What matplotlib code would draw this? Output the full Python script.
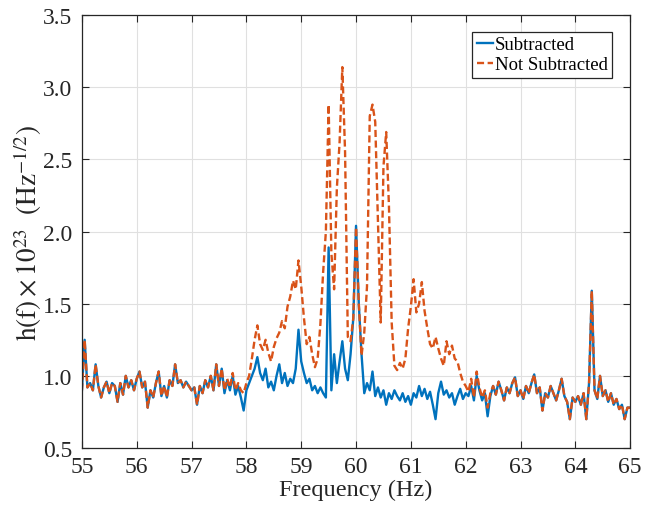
import numpy as np
import matplotlib
matplotlib.use("Agg")
import matplotlib.pyplot as plt

# frequency grid (Hz), 0.05 Hz step
freq = np.round(np.arange(55.0, 65.0001, 0.05), 2)

# 55.00 - 57.95 (both series nearly identical)
low_sub = [0.90, 1.25, 0.92, 0.95, 0.90, 1.08, 0.93, 0.85, 0.92, 0.96,
           0.88, 0.95, 0.93, 0.82, 0.95, 0.87, 1.00, 0.92, 0.97, 0.90,
           0.98, 1.03, 0.92, 0.96, 0.78, 0.90, 0.85, 0.95, 1.03, 0.86,
           0.93, 0.85, 0.97, 0.93, 1.08, 0.95, 0.97, 0.92, 0.96, 0.93,
           0.90, 0.92, 0.80, 0.93, 0.88, 0.97, 0.92, 1.00, 0.90, 1.08,
           0.93, 1.05, 0.88, 0.97, 0.90, 1.00, 0.87, 0.93, 0.85, 0.76]
low_not = [0.90, 1.25, 0.92, 0.95, 0.90, 1.08, 0.93, 0.85, 0.92, 0.96,
           0.88, 0.95, 0.93, 0.82, 0.95, 0.87, 1.00, 0.92, 0.97, 0.90,
           0.98, 1.03, 0.92, 0.96, 0.78, 0.90, 0.85, 0.95, 1.03, 0.86,
           0.93, 0.85, 0.97, 0.93, 1.08, 0.95, 0.97, 0.92, 0.96, 0.93,
           0.90, 0.92, 0.80, 0.93, 0.88, 0.97, 0.92, 1.00, 0.90, 1.08,
           0.93, 1.05, 0.90, 0.98, 0.92, 1.02, 0.90, 0.95, 0.90, 0.88]

# 58.00 - 61.95
mid_sub = [0.90, 0.95, 1.00, 1.05, 1.13, 1.02, 0.97, 1.05, 0.92, 0.96,
           0.90, 1.00, 1.08, 0.95, 1.02, 0.93, 0.98, 0.95, 1.05, 1.32,
           1.10, 1.02, 0.95, 0.98, 0.90, 0.93, 0.88, 0.92, 0.88, 0.85,
           1.89, 0.90, 1.15, 0.95, 1.10, 1.24, 1.05, 0.97, 1.15, 1.40,
           2.04, 1.50, 1.15, 0.88, 0.95, 0.90, 1.03, 0.86, 0.92, 0.85,
           0.90, 0.80, 0.88, 0.84, 0.90, 0.86, 0.83, 0.88, 0.82, 0.86,
           0.80, 0.88, 0.85, 0.93, 0.86, 0.91, 0.84, 0.89, 0.80, 0.70,
           0.88, 0.96, 0.87, 0.90, 0.85, 0.88, 0.80, 0.86, 0.91, 0.84]
mid_not = [0.95, 1.00, 1.12, 1.25, 1.35, 1.22, 1.18, 1.25, 1.16, 1.10,
           1.20, 1.26, 1.30, 1.38, 1.33, 1.48, 1.55, 1.66, 1.60, 1.80,
           1.62, 1.40, 1.22, 1.27, 1.15, 1.06, 1.12, 1.36, 1.72, 2.00,
           2.88, 1.85, 1.60, 2.30, 2.62, 3.14, 2.55, 1.27, 1.24, 1.40,
           2.03, 1.50, 1.14, 1.30, 1.62, 2.80, 2.88, 2.76, 2.07, 1.37,
           2.45, 2.69, 2.18, 1.37, 1.07, 1.04, 1.09, 1.05, 1.12, 1.33,
           1.48, 1.67, 1.44, 1.50, 1.65, 1.45, 1.33, 1.22, 1.19, 1.27,
           1.19, 1.12, 1.07, 1.24, 1.15, 1.21, 1.12, 1.10, 1.02, 0.96]

# 62.00 - 65.00
high_sub = [0.88, 0.86, 0.93, 0.83, 1.00, 0.90, 0.83, 0.88, 0.72, 0.86,
            0.93, 0.87, 0.96, 0.90, 0.83, 0.92, 0.88, 0.95, 0.99, 0.86,
            0.90, 0.84, 0.93, 0.88, 0.95, 1.01, 0.88, 0.92, 0.76, 0.88,
            0.85, 0.93, 0.88, 0.83, 0.90, 0.98, 0.86, 0.82, 0.70, 0.85,
            0.82, 0.86, 0.80, 0.88, 0.70, 0.95, 1.59, 0.90, 0.84, 1.00,
            0.86, 0.90, 0.82, 0.88, 0.80, 0.84, 0.77, 0.80, 0.70, 0.78,
            0.78]
high_not = [0.93, 0.89, 0.98, 0.85, 1.03, 0.92, 0.85, 0.90, 0.78, 0.88,
            0.93, 0.87, 0.96, 0.90, 0.83, 0.92, 0.88, 0.95, 0.99, 0.86,
            0.90, 0.84, 0.93, 0.88, 0.95, 1.01, 0.88, 0.92, 0.76, 0.88,
            0.85, 0.93, 0.88, 0.83, 0.90, 0.98, 0.86, 0.82, 0.70, 0.85,
            0.82, 0.86, 0.80, 0.88, 0.70, 0.95, 1.59, 0.90, 0.84, 1.00,
            0.86, 0.90, 0.82, 0.88, 0.80, 0.84, 0.77, 0.80, 0.70, 0.78,
            0.78]

subtracted = np.array(low_sub + mid_sub + high_sub)
not_subtracted = np.array(low_not + mid_not + high_not)

xticks = list(range(55, 66))
yticks = [0.5, 1.0, 1.5, 2.0, 2.5, 3.0, 3.5]

plt.rcParams['font.family'] = ['Liberation Serif', 'DejaVu Serif']
plt.rcParams['mathtext.fontset'] = 'stix'

fig = plt.figure(figsize=(6.45, 5.06), dpi=100)
ax = fig.add_axes([0.127, 0.1126, 0.85, 0.8555])

ax.plot(freq, subtracted, color='#0072BD', lw=1.7, label='Subtracted')
ax.plot(freq, not_subtracted, color='#D95319', lw=1.7, ls=(0, (3, 1.5)),
        label='Not Subtracted')

ax.set_xlim(55, 65)
ax.set_ylim(0.5, 3.5)
ax.set_xticks(xticks)
ax.set_yticks(yticks)
ax.set_yticklabels([f"{v:.1f}" for v in yticks])
ax.grid(True, color='#e0e0e0', lw=0.8)
ax.set_axisbelow(True)
ax.tick_params(direction='in', top=True, right=True, length=5,
               labelsize=17, color='#262626', width=0.8, labelcolor='#262626')
ax.tick_params(axis='x', pad=6)
ax.tick_params(axis='y', pad=7)
for s in ax.spines.values():
    s.set_color('#262626')
    s.set_linewidth(0.9)

ax.set_xlabel('Frequency (Hz)', fontsize=17.5, labelpad=1, color='#262626')
ax.set_ylabel(r'$\mathrm{h(f)}\times 10^{23}\ \ (\mathrm{Hz}^{-1/2})$',
              fontsize=19.5, labelpad=-1, color='#262626')

leg = ax.legend(loc='upper right', bbox_to_anchor=(0.967, 0.962),
                fontsize=13.5, fancybox=False, framealpha=1,
                edgecolor='#262626', handlelength=0.85, handletextpad=0.1,
                borderpad=0.25, labelspacing=0.15, borderaxespad=0)
leg.get_frame().set_linewidth(0.9)

fig.savefig('out.png', dpi=100)
